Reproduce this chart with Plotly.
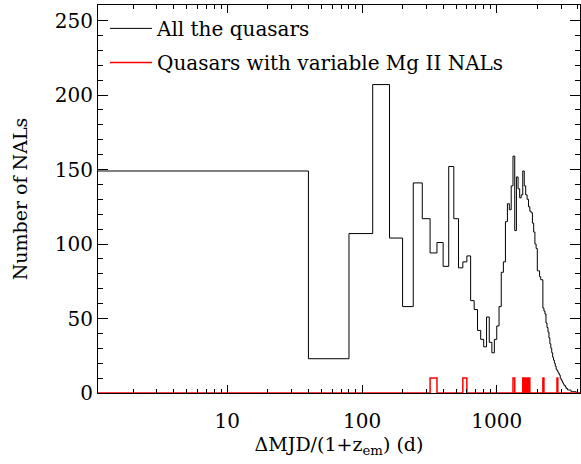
"""Histogram of Delta MJD / (1 + z_em) for all NALs and for variable Mg II NALs."""
from __future__ import annotations

import numpy as np
import plotly.graph_objects as go

# 40-day bins, starting at 0 d
BIN_WIDTH = 40

# counts per bin for all the quasars (0-40, 40-80, ...)
ALL_COUNTS = [
    149, 23, 107, 207, 104, 58, 141, 117, 94, 101,
    85, 152, 117, 84, 88, 92, 62, 56, 42, 36,
    31, 51, 34, 27, 36, 45, 58, 81, 88, 115,
    127, 123, 139, 159, 109, 145, 137, 131, 133, 149,
    139, 133, 130, 125, 122, 121, 114, 108, 100, 97,
    82, 82, 78, 76, 76, 57, 55, 53, 47, 44,
    41, 37, 33, 30, 27, 24, 22, 20, 18, 16,
    15, 14, 13, 12, 10, 9, 8, 7, 6, 5,
    5, 4, 3, 3, 2, 2, 2, 2, 2, 1,
    1, 1, 1, 1, 1, 1, 1, 0, 0, 0,
    0, 0, 0, 0,
]

# bins holding a variable Mg II NAL (left edge, d) and the plotted height
VARIABLE_BIN_STARTS = [320, 560, 1320, 1560, 1640, 1720, 2200, 2800]
VARIABLE_HEIGHTS = [10, 10, 10, 10, 10, 10, 10, 10]

X_TICKS = [10, 100, 1000]
X_MINOR = [2, 3, 4, 5, 6, 7, 8, 9, 20, 30, 40, 50, 60, 70, 80, 90,
           200, 300, 400, 500, 600, 700, 800, 900, 2000, 3000, 4000]

FONT = "DejaVu Serif"


def step_arrays(counts):
    """Bin edges and values for an hv step line; the 0 edge is nudged for log x."""
    edges = np.arange(len(counts) + 1, dtype=float) * BIN_WIDTH
    edges[0] = 1.0
    values = list(counts) + [counts[-1]]
    return edges, values


def build_figure() -> go.Figure:
    variable = [0] * len(ALL_COUNTS)
    for start, height in zip(VARIABLE_BIN_STARTS, VARIABLE_HEIGHTS):
        variable[start // BIN_WIDTH] = height

    fig = go.Figure()
    x_all, y_all = step_arrays(ALL_COUNTS)
    fig.add_trace(go.Scatter(
        x=x_all, y=y_all, mode="lines", line=dict(shape="hv", color="black", width=1),
        name="All the quasars", legendgroup="all",
    ))
    x_var, y_var = step_arrays(variable)
    fig.add_trace(go.Scatter(
        x=x_var, y=y_var, mode="lines", line=dict(shape="hv", color="red", width=1.5),
        name="Quasars with variable Mg II NALs", legendgroup="var",
    ))

    fig.update_layout(
        width=581, height=464,
        margin=dict(l=98, r=1, t=5, b=71),
        paper_bgcolor="white", plot_bgcolor="white",
        font=dict(family=FONT, size=19, color="black"),
        showlegend=True,
        legend=dict(
            x=0.0145, y=0.99, xanchor="left", yanchor="top",
            bgcolor="rgba(0,0,0,0)", tracegroupgap=5,
            font=dict(family=FONT, size=20),
            itemwidth=42,
        ),
    )
    fig.update_xaxes(
        type="log", range=[0.04, 3.618], automargin=False,
        tickvals=X_TICKS, ticktext=[str(v) for v in X_TICKS],
        ticks="inside", ticklen=8, tickcolor="black",
        minor=dict(tickvals=X_MINOR, ticks="inside", ticklen=4, tickcolor="black"),
        showline=True, linecolor="black", linewidth=1, mirror="ticks",
        showgrid=False, zeroline=False,
        tickfont=dict(size=20), ticklabelstandoff=10,
        title=dict(text="ΔMJD/(1+z<sub>em</sub>) (d)", font=dict(size=19), standoff=2),
    )
    fig.update_yaxes(
        range=[0, 260.4], automargin=False,
        tickvals=[0, 50, 100, 150, 200, 250],
        ticks="inside", ticklen=10, tickcolor="black",
        minor=dict(dtick=10, ticks="inside", ticklen=5, tickcolor="black"),
        showline=True, linecolor="black", linewidth=1, mirror="ticks",
        showgrid=False, zeroline=False,
        tickfont=dict(size=20),
        title=dict(text="Number of NALs", font=dict(size=19), standoff=22),
    )
    return fig


def main() -> None:
    fig = build_figure()
    # drop the browser's default body margin so the figure sits at the page corner
    fig.write_html(
        "out.html",
        config={"displayModeBar": False},
        post_script="document.body.style.margin = '0';",
    )


if __name__ == "__main__":
    main()
